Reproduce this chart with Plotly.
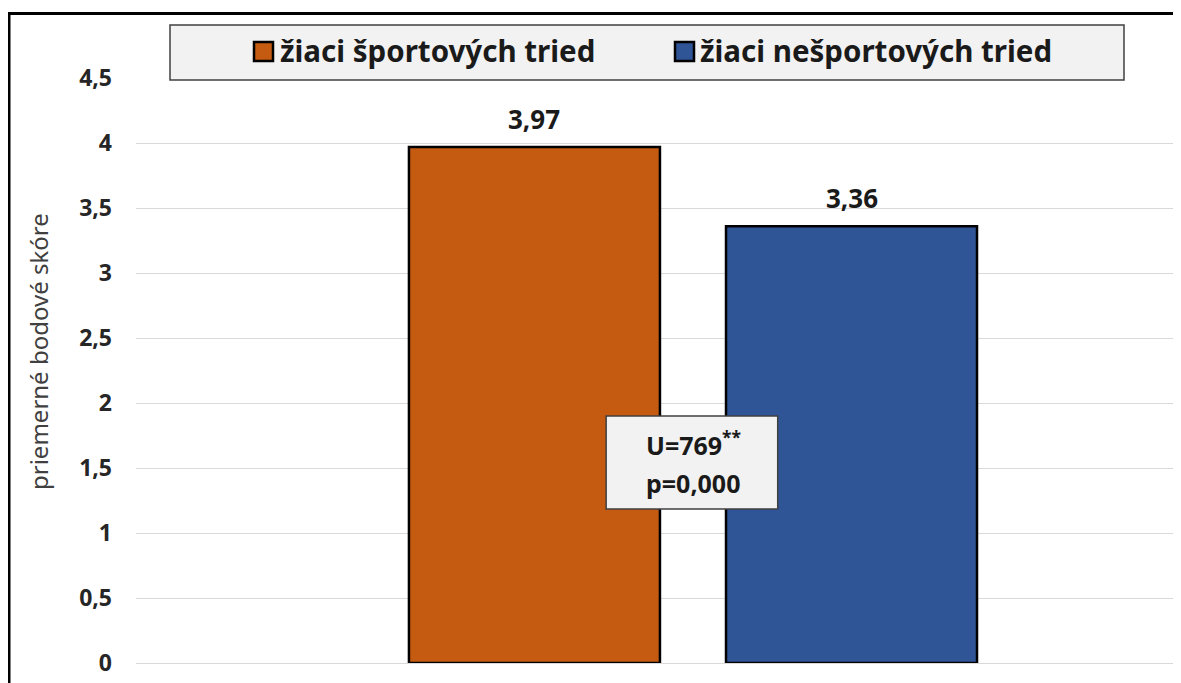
import plotly.graph_objects as go

# ---- data ----
series_names = ["žiaci športových tried", "žiaci nešportových tried"]
series_values = [3.97, 3.36]
series_colors = ["#C55A11", "#2F5597"]
y_ticks = [0, 0.5, 1, 1.5, 2, 2.5, 3, 3.5, 4, 4.5]
y_title = "priemerné bodové skóre"
stat_lines = ["U=769<sup>**</sup>", "p=0,000"]

# page body has an 8px margin; figure is drawn at (8, 8)
OFF = 8
W, H = 1181 - OFF, 683 - OFF
L, R_PX, T, B = 136, 1181, 78, 663   # plot area in reference pixels
YMAX = 4.5
XR = [-0.5, 0.438]

def px2x(p):  # reference pixel -> paper x
    return (p - L) / (R_PX - L)

def px2y(p):  # reference pixel -> paper y
    return (B - p) / (B - T)

FONT = "Noto Sans"
bar_width = 0.2253
offsets = [-0.255, 0.0296]

fig = go.Figure()
for name, val, col, off in zip(series_names, series_values, series_colors, offsets):
    fig.add_trace(go.Bar(
        x=[0], y=[val], name=name, width=bar_width, offset=off,
        marker=dict(color=col, line=dict(color="#000000", width=2.5)),
        showlegend=False, hoverinfo="skip",
    ))
    fig.add_annotation(
        x=off + bar_width / 2, y=val, xref="x", yref="y",
        text=f"{val:.2f}".replace(".", ","), showarrow=False,
        yanchor="middle", yshift=28,
        font=dict(family=FONT, size=26, color="#1a1a1a", weight="bold"),
    )

fig.update_layout(
    width=W, height=H,
    margin=dict(l=L - OFF, r=0, t=T - OFF, b=H - (B - OFF), pad=0),
    paper_bgcolor="white", plot_bgcolor="white",
    separators=", ",
    barmode="overlay",
    showlegend=False,
    xaxis=dict(range=XR, showticklabels=False, showgrid=False, zeroline=False,
               showline=False, ticks=""),
    yaxis=dict(range=[0, YMAX], tickvals=y_ticks,
               ticktext=[str(v).replace(".", ",") if v % 1 else str(int(v)) for v in y_ticks],
               showgrid=True, gridcolor="#d9d9d9", gridwidth=1,
               zeroline=True, zerolinecolor="#d9d9d9", zerolinewidth=1,
               showline=False, ticks="", ticklabelstandoff=23,
               tickfont=dict(family=FONT, size=23, color="#262626", weight="bold")),
)

# y-axis title
fig.add_annotation(
    x=px2x(38), y=px2y(352), xref="paper", yref="paper", text=y_title,
    textangle=-90, showarrow=False, xanchor="center", yanchor="middle",
    font=dict(family=FONT, size=24, color="#404040"),
)

# legend box
fig.add_shape(type="rect", xref="paper", yref="paper",
              x0=px2x(170), x1=px2x(1124), y0=px2y(80), y1=px2y(25),
              fillcolor="#f2f2f2", line=dict(color="#404040", width=1.5))
legend_sq = [253, 674]
legend_tx = [278, 698]
for name, col, sq, tx in zip(series_names, series_colors, legend_sq, legend_tx):
    fig.add_shape(type="rect", xref="paper", yref="paper",
                  x0=px2x(sq + 1), x1=px2x(sq + 20), y0=px2y(61), y1=px2y(42),
                  fillcolor=col, line=dict(color="#000000", width=2.5))
    fig.add_annotation(x=px2x(tx), y=px2y(51), xref="paper", yref="paper",
                       text=name, showarrow=False, xanchor="left", yanchor="middle",
                       font=dict(family=FONT, size=29.5, color="#1a1a1a", weight="bold"))

# statistics box
fig.add_shape(type="rect", xref="x", yref="y",
              x0=-0.078, x1=0.076, y0=1.185, y1=1.9,
              fillcolor="#f2f2f2", line=dict(color="#404040", width=1.5))
for line, yv in zip(stat_lines, [1.685, 1.385]):
    fig.add_annotation(x=0, y=yv, xref="x", yref="y", text=line, showarrow=False,
                       font=dict(family=FONT, size=25, color="#1a1a1a", weight="bold"))

# outer frame (cropped on right/bottom)
fig.add_shape(type="rect", xref="paper", yref="paper",
              x0=px2x(9), x1=px2x(1300), y0=px2y(800), y1=px2y(13.5),
              line=dict(color="#000000", width=3), fillcolor="rgba(0,0,0,0)")

fig.write_html("out.html")
